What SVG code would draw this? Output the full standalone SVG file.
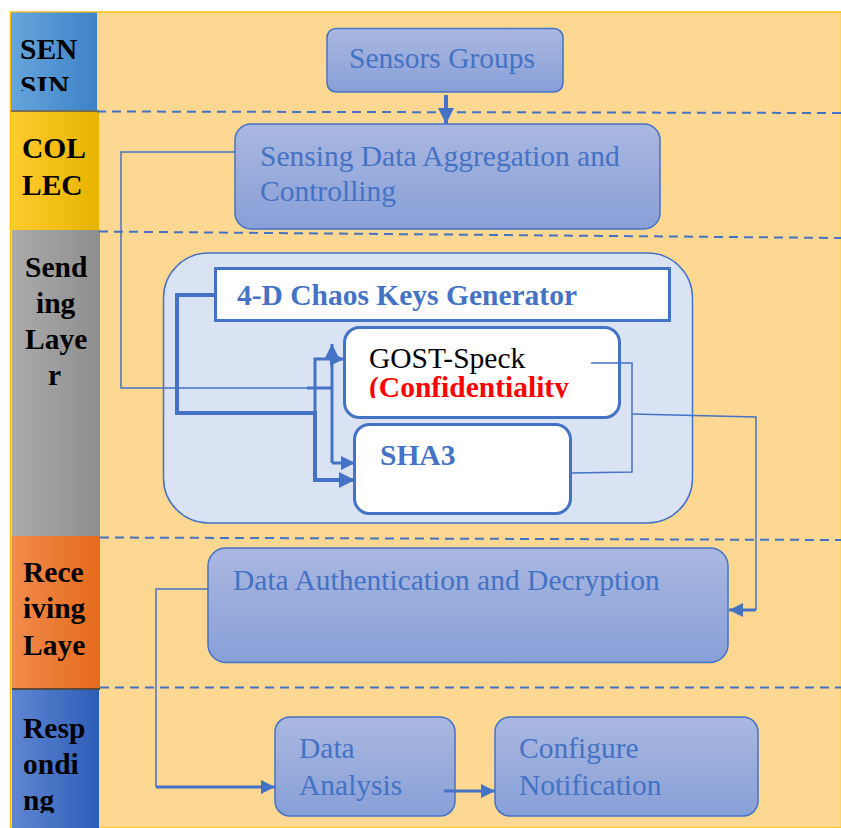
<svg xmlns="http://www.w3.org/2000/svg" width="841" height="828" viewBox="0 0 841 828">
<style>
.lbl{font-family:"Liberation Serif","Times New Roman",serif;font-weight:bold;font-size:29.5px;fill:#000}
.nt{font-family:"Liberation Serif","Times New Roman",serif;font-size:29.5px;fill:#4472C4}
.node{fill:url(#ng);stroke:#4472C4;stroke-width:1.5}
.wbox{fill:#fff;stroke:#4472C4;stroke-width:3}
.dash{stroke:#4472C4;stroke-width:2;stroke-dasharray:9 6;fill:none}
.thin{stroke:#4472C4;stroke-width:1.5;fill:none}
.thick{stroke:#4472C4;stroke-width:4;fill:none}
.med{stroke:#4472C4;stroke-width:3;fill:none}
</style>
<defs>
<linearGradient id="ng" x1="0" y1="0" x2="0" y2="1"><stop offset="0" stop-color="#AAB8E1"/><stop offset="1" stop-color="#889FD7"/></linearGradient>
<linearGradient id="gBlue" x1="0" y1="0" x2="1" y2="0"><stop offset="0" stop-color="#66A5DD"/><stop offset="1" stop-color="#3E82C6"/></linearGradient>
<linearGradient id="gYel" x1="0" y1="0" x2="1" y2="0"><stop offset="0" stop-color="#FFCB2E"/><stop offset="1" stop-color="#E7B400"/></linearGradient>
<linearGradient id="gGray" x1="0" y1="0" x2="1" y2="0"><stop offset="0" stop-color="#ABABAB"/><stop offset="1" stop-color="#8E8E8E"/></linearGradient>
<linearGradient id="gOr" x1="0" y1="0" x2="1" y2="0"><stop offset="0" stop-color="#F18B4C"/><stop offset="1" stop-color="#E56A1C"/></linearGradient>
<linearGradient id="gDB" x1="0" y1="0" x2="1" y2="0"><stop offset="0" stop-color="#5F86D2"/><stop offset="1" stop-color="#2D5DB7"/></linearGradient>
<marker id="ah" viewBox="0 0 10 10" refX="10" refY="5" markerWidth="4" markerHeight="4" orient="auto" markerUnits="strokeWidth"><path d="M0,0 L10,5 L0,10 z" fill="#4472C4"/></marker>
<marker id="ahs" viewBox="0 0 10 10" refX="10" refY="5" markerWidth="4.8" markerHeight="4.8" orient="auto" markerUnits="strokeWidth"><path d="M0,0 L10,5 L0,10 z" fill="#4472C4"/></marker>
<clipPath id="c1"><rect x="10" y="12" width="90" height="79"/></clipPath>
<clipPath id="c5"><rect x="10" y="690" width="90" height="123"/></clipPath>
<clipPath id="cConf"><rect x="345" y="370" width="270" height="28"/></clipPath>
</defs>

<rect x="0" y="0" width="841" height="828" fill="#fff"/>
<rect x="10.5" y="12" width="831" height="816" fill="#FDD893" stroke="#FFC000" stroke-width="1.5"/>

<g id="lanes">
<rect x="11" y="12.5" width="86" height="98" fill="url(#gBlue)"/>
<rect x="11" y="111" width="88" height="119" fill="url(#gYel)"/>
<line x1="11" y1="111" x2="99" y2="111" stroke="#555" stroke-width="1.5"/>
<rect x="12" y="230" width="88" height="306" fill="url(#gGray)"/>
<rect x="12" y="536" width="88" height="153" fill="url(#gOr)"/>
<rect x="12" y="689" width="87" height="139" fill="url(#gDB)"/>
<line x1="12" y1="689" x2="100" y2="689" stroke="#5a4a3a" stroke-width="2"/>
<g clip-path="url(#c1)"><text class="lbl" x="20" y="59">SEN</text><text class="lbl" x="20" y="96">SIN</text></g>
<text class="lbl" x="22" y="158">COL</text>
<text class="lbl" x="22" y="195">LEC</text>
<text class="lbl" x="25" y="277">Send</text>
<text class="lbl" x="36" y="313">ing</text>
<text class="lbl" x="25" y="349">Laye</text>
<text class="lbl" x="48" y="385">r</text>
<text class="lbl" x="23" y="582">Rece</text>
<text class="lbl" x="23" y="618">iving</text>
<text class="lbl" x="23" y="655">Laye</text>
<g clip-path="url(#c5)"><text class="lbl" x="23" y="738">Resp</text><text class="lbl" x="23" y="774">ondi</text><text class="lbl" x="23" y="810">ng</text></g>
</g>

<g id="separators">
<line class="dash" x1="97" y1="111.5" x2="841" y2="113"/>
<line class="dash" x1="99" y1="231.5" x2="841" y2="238"/>
<line class="dash" x1="100" y1="537.5" x2="841" y2="540"/>
<line class="dash" x1="100" y1="687.5" x2="841" y2="687.5"/>
</g>

<g id="sending-container">
<rect x="163.5" y="253" width="529" height="270" rx="45" fill="#DAE3F3" stroke="#4472C4" stroke-width="1.5"/>
</g>

<g id="sensors-groups">
<rect class="node" x="327" y="28.5" width="236" height="63.5" rx="9"/>
<text class="nt" x="349" y="68">Sensors Groups</text>
</g>

<g id="aggregation">
<rect class="node" x="235" y="124" width="425" height="105" rx="16"/>
<text class="nt" x="260" y="166">Sensing Data Aggregation and</text>
<text class="nt" x="260" y="201">Controlling</text>
</g>

<g id="chaos-keys">
<rect class="wbox" x="215.5" y="268.5" width="454" height="52"/>
<text class="nt" x="237" y="305" font-weight="bold">4-D Chaos Keys Generator</text>
</g>

<g id="gost-speck">
<rect class="wbox" x="344.5" y="327.5" width="275" height="90" rx="15"/>
<text x="369" y="368" font-family="'Liberation Serif','Times New Roman',serif" font-size="29.5" fill="#000">GOST-Speck</text>
<g clip-path="url(#cConf)"><text x="369" y="397" font-family="'Liberation Serif','Times New Roman',serif" font-size="29.5" font-weight="bold" fill="#FF0000">(Confidentiality</text></g>
</g>

<g id="sha3">
<rect class="wbox" x="354.5" y="424.5" width="216" height="89" rx="15"/>
<text class="nt" x="380" y="465" font-weight="bold">SHA3</text>
</g>

<g id="auth-decrypt">
<rect class="node" x="208" y="548" width="520" height="114.5" rx="18"/>
<text class="nt" x="233" y="590">Data Authentication and Decryption</text>
</g>

<g id="data-analysis">
<rect class="node" x="275" y="717" width="180" height="99" rx="15"/>
<text class="nt" x="299" y="758">Data</text>
<text class="nt" x="299" y="795">Analysis</text>
</g>

<g id="configure-notification">
<rect class="node" x="495" y="717" width="263" height="99" rx="15"/>
<text class="nt" x="519" y="758">Configure</text>
<text class="nt" x="519" y="795">Notification</text>
</g>

<g id="connectors">
<line class="thick" x1="446" y1="95" x2="446" y2="124" marker-end="url(#ah)"/>
<polyline class="thin" points="235,152 121,152 121,388 332,388"/>
<line class="med" x1="307" y1="388" x2="332" y2="388"/>
<polyline class="thick" points="215,295 177,295 177,413 315,413 315,480 355,480" marker-end="url(#ah)"/>
<polyline class="med" points="315,413 315,359 344,359" marker-end="url(#ahs)"/>
<polyline class="med" points="332,463 332,344" marker-end="url(#ahs)"/>
<line class="med" x1="332" y1="463" x2="355" y2="463" marker-end="url(#ahs)"/>
<polyline class="thin" points="591,363 632,363 632,472 571,473"/>
<polyline class="thin" points="632,414 756,417 756,610"/>
<line class="med" x1="756" y1="610" x2="729" y2="610" marker-end="url(#ahs)"/>
<polyline class="thin" points="208,589 156,589 156,787"/>
<line class="med" x1="156" y1="787" x2="275" y2="787" marker-end="url(#ahs)"/>
<line class="med" x1="444" y1="791" x2="495" y2="791" marker-end="url(#ahs)"/>
</g>
</svg>
